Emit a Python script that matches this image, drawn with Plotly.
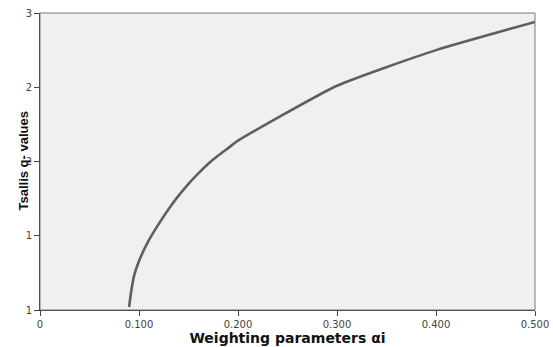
import plotly.graph_objects as go

alpha = [0.090, 0.092, 0.095, 0.100, 0.110, 0.120, 0.130, 0.140, 0.150, 0.160,
         0.170, 0.180, 0.190, 0.200, 0.300, 0.400, 0.500]
q_values = [1.02, 1.12, 1.23, 1.33, 1.47, 1.58, 1.68, 1.77, 1.85, 1.92,
            1.985, 2.04, 2.09, 2.14, 2.51, 2.75, 2.94]

x_tickvals = [0, 0.1, 0.2, 0.3, 0.4, 0.5]
x_ticktext = ["0", "0.100", "0.200", "0.300", "0.400", "0.500"]
y_tickvals = [1, 1.5, 2, 2.5, 3]
y_ticktext = ["1", "1", "2", "2", "3"]

fig = go.Figure()
fig.add_trace(go.Scatter(x=alpha, y=q_values, mode="lines",
                         line=dict(color="#5f5f5f", width=2.6, shape="spline", smoothing=0.5),
                         hoverinfo="skip"))

fig.add_shape(type="rect", xref="paper", yref="paper", x0=0, y0=0, x1=1, y1=1,
              line=dict(color="#7a7a7a", width=1), layer="above")

fig.add_annotation(text="<b>Tsallis q- values</b>", xref="paper", yref="paper",
                   x=0, y=0.5, xanchor="center", yanchor="middle", xshift=-17,
                   textangle=-90, showarrow=False,
                   font=dict(family="Liberation Sans", size=13, color="#111111"))

fig.update_layout(
    width=553, height=347,
    margin=dict(l=40, r=18, t=13, b=37),
    paper_bgcolor="white", plot_bgcolor="#f0f0f0",
    showlegend=False,
    font=dict(family="DejaVu Sans", color="#333333"),
    xaxis=dict(range=[0, 0.5], tickvals=x_tickvals, ticktext=x_ticktext,
               showgrid=False, zeroline=False, showline=True, linecolor="#222222",
               linewidth=1, ticks="outside", ticklen=5, tickcolor="#444444",
               tickfont=dict(size=10, color="#444444"), automargin=False,
               title=dict(text="<b>Weighting parameters αi</b>", standoff=2,
                          font=dict(size=14, color="#111111"))),
    yaxis=dict(range=[1, 3], tickvals=y_tickvals, ticktext=y_ticktext,
               showgrid=False, zeroline=False, showline=True, linecolor="#222222",
               linewidth=1, ticks="outside", ticklen=5, tickcolor="#444444",
               tickfont=dict(size=10, color="#444444"), automargin=False),
)

fig.write_html("out.html", config={"displayModeBar": False},
               post_script="document.body.style.margin='0';document.body.style.overflow='hidden';")
